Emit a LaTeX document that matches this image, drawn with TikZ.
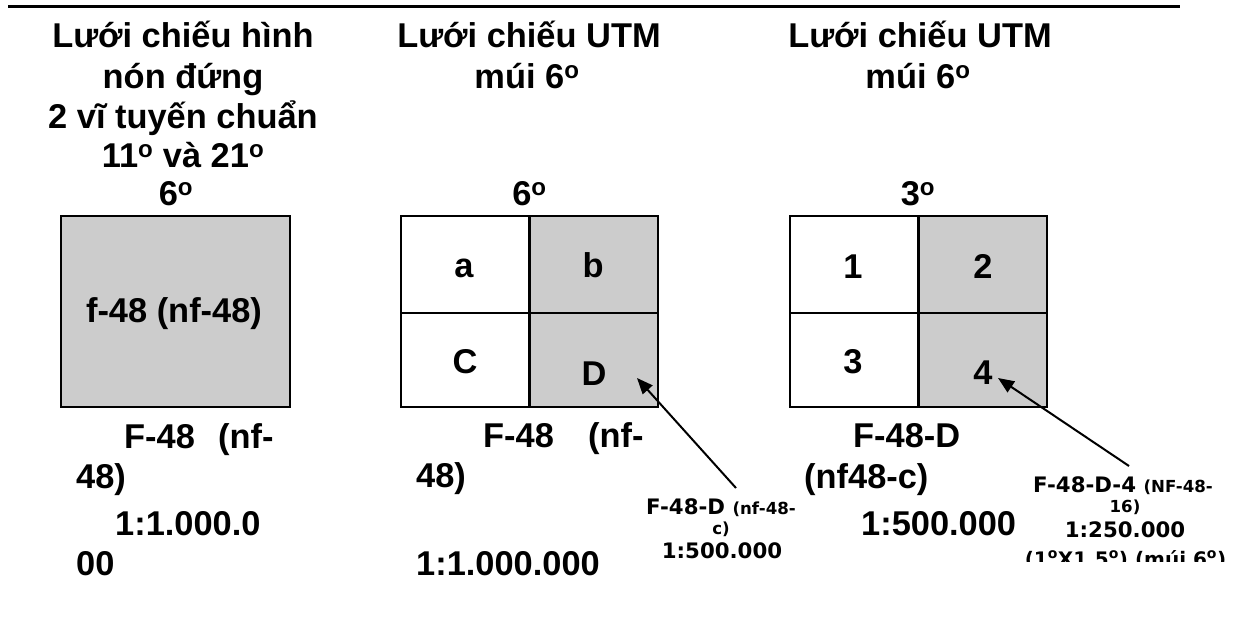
\documentclass[tikz,border=0pt]{standalone}
\usepackage{fontspec}
\setmainfont{Liberation Sans}
\newfontfamily\vfont{DejaVu Sans}
\usetikzlibrary{arrows.meta}
\newcommand\degO{\textsuperscript{o}}
\definecolor{boxgray}{RGB}{204,204,204}
\begin{document}
\begin{tikzpicture}[x=1pt,y=-1pt,
  big/.style={font=\bfseries\fontsize{34.4}{39.6}\selectfont, inner sep=0pt, anchor=base},
  bigw/.style={big, anchor=base west},
  sm/.style={font=\vfont\bfseries\fontsize{21.3}{25}\selectfont, inner sep=0pt, anchor=base},
  smw/.style={sm, anchor=base west},
  grid/.style={line width=2.6pt},
  arr/.style={line width=2pt, -{Triangle[length=16pt,width=13pt]}}]
\useasboundingbox (0,0) rectangle (1238,627);
% top rule
\draw[line width=2.2pt] (8,6.5) -- (1180,6.5);

% ---------- column 1 ----------
\node[big] (t1a) at (183,47) {Lưới chiếu hình};
\node[big] (t1b) at (183,88) {nón đứng};
\node[big] (t1c) at (183,128) {2 vĩ tuyến chuẩn};
\node[big] (t1d) at (183,167) {11\degO{} và 21\degO};
\node[big] (t1e) at (176,205) {6\degO};
\filldraw[grid, fill=boxgray] (61,216) rectangle (290,407);
\node[big] (f48) at (174,322) {f-48 (nf-48)};
\node[bigw] (c1a) at (124,448) {F-48\hspace{23.3pt}(nf-};
\node[bigw] (c1b) at (76,488) {48)};
\node[bigw] (c1c) at (115,535) {1:1.000.0};
\node[bigw] (c1d) at (76,575) {00};

% ---------- column 2 ----------
\node[big] (t2a) at (529,47) {Lưới chiếu UTM};
\node[big] (t2b) at (527,88) {múi 6\degO};
\node[big] (t2c) at (529.5,205) {6\degO};
\fill[boxgray] (529.5,216) rectangle (658,407);
\draw[grid] (401,216) rectangle (658,407);
\draw[grid] (529.5,216) -- (529.5,407);
\draw[grid] (401,313) -- (658,313);
\node[big] (ca) at (464,277) {a};
\node[big] (cb) at (593,277) {b};
\node[big] (cc) at (465,373) {C};
\node[big] (cd) at (594,385) {D};
\node[bigw] (c2a) at (483,447) {F-48\hspace{34.3pt}(nf-};
\node[bigw] (c2b) at (416,487) {48)};
\node[bigw] (c2c) at (416,575) {1:1.000.000};

% label for D
\node[smw] (lD1) at (646,514) {F-48-D {\fontsize{16.6}{20}\selectfont (nf-48-}};
\node[sm, font=\vfont\bfseries\fontsize{16.6}{20}\selectfont] (lD2) at (721,534) {c)};
\node[sm] (lD3) at (722,558) {1:500.000};
\coordinate (tailD) at (736,488);
\coordinate (tipD) at (637,378);
\draw[arr] (tailD) -- (tipD);

% ---------- column 3 ----------
\node[big] (t3a) at (920,47) {Lưới chiếu UTM};
\node[big] (t3b) at (918,88) {múi 6\degO};
\node[big] (t3c) at (918,205) {3\degO};
\fill[boxgray] (918.5,216) rectangle (1047,407);
\draw[grid] (790,216) rectangle (1047,407);
\draw[grid] (918.5,216) -- (918.5,407);
\draw[grid] (790,313) -- (1047,313);
\node[big] (c31) at (853,278) {1};
\node[big] (c32) at (983,278) {2};
\node[big] (c33) at (853,373) {3};
\node[big] (c34) at (983,384) {4};
\node[bigw] (c3a) at (853,447) {F-48-D};
\node[bigw] (c3b) at (804,488) {(nf48-c)};
\node[bigw] (c3c) at (861,535) {1:500.000};

% label for 4
\node[smw] (l41) at (1033,492) {F-48-D-4 {\fontsize{16.6}{20}\selectfont (NF-48-}};
\node[sm, font=\vfont\bfseries\fontsize{16.6}{20}\selectfont] (l42) at (1125,512) {16)};
\node[sm] (l43) at (1125,537) {1:250.000};
\begin{scope}
\clip (990,540) rectangle (1238,561);
\node[sm, font=\vfont\bfseries\fontsize{20}{24}\selectfont] (l44) at (1125.5,566) {(1\degO X1.5\degO) (múi 6\degO)};
\end{scope}
\coordinate (tail4) at (1129,466);
\coordinate (tip4) at (998,378);
\draw[arr] (tail4) -- (tip4);
\end{tikzpicture}
\end{document}
